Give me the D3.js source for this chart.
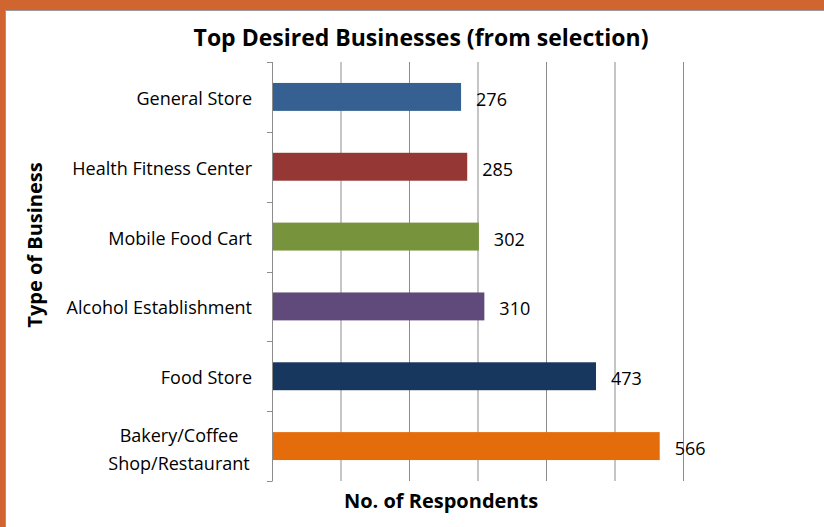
<!DOCTYPE html>
<html>
<head>
<meta charset="utf-8">
<script src="https://cdn.jsdelivr.net/npm/d3@7"></script>
<style>
  body { margin: 0; background: #fff; }
  svg { display: block; }
  text { font-family: 'Liberation Sans Narrow', 'Arial Narrow', 'Open Sans', sans-serif; }
</style>
</head>
<body>
<div id="chart"></div>
<script>
// data
const categories = ['General Store', 'Health Fitness Center', 'Mobile Food Cart',
    'Alcohol Establishment', 'Food Store', 'Bakery/Coffee\nShop/Restaurant'];
const values = [276, 285, 302, 310, 473, 566];
const barColors = ['#366092', '#953735', '#77933c', '#604a7b', '#17375e', '#e46c0a'];
const xTicks = [0, 100, 200, 300, 400, 500, 600];

const width = 824, height = 527;
const margin = { top: 62, right: 141, bottom: 46, left: 272 };
const innerW = width - margin.left - margin.right;
const innerH = height - margin.top - margin.bottom;

const svg = d3.select('#chart').append('svg')
    .attr('width', width)
    .attr('height', height);

// slide frame
svg.append('rect').attr('x', 0).attr('y', 0).attr('width', width).attr('height', 10).attr('fill', '#d06530');
svg.append('rect').attr('x', 0).attr('y', 0).attr('width', 5).attr('height', height).attr('fill', '#d06530');
svg.append('line').attr('x1', 5).attr('x2', width).attr('y1', 10.5).attr('y2', 10.5).attr('stroke', '#9a9a9a');
svg.append('line').attr('x1', 5.5).attr('x2', 5.5).attr('y1', 10).attr('y2', height).attr('stroke', '#9a9a9a');

const chart = svg.append('g')
    .attr('transform', `translate(${margin.left}, ${margin.top})`);

const xscale = d3.scaleLinear().domain([0, 600]).range([0, innerW]);
const yscale = d3.scaleBand().domain(categories).range([0, innerH]).paddingInner(0.6).paddingOuter(0.3);

// gridlines
chart.append('g')
    .selectAll('line')
    .data(xTicks.slice(1))
    .join('line')
    .attr('x1', d => xscale(d) + 0.5)
    .attr('x2', d => xscale(d) + 0.5)
    .attr('y1', 0)
    .attr('y2', innerH)
    .attr('stroke', '#8c8c8c')
    .attr('stroke-width', 1);

// bars
chart.append('g')
    .selectAll('rect')
    .data(categories)
    .join('rect')
    .attr('x', 0)
    .attr('y', d => yscale(d))
    .attr('width', (d, i) => xscale(values[i]))
    .attr('height', yscale.bandwidth())
    .attr('fill', (d, i) => barColors[i]);

// y axis with ticks between categories
const step = innerH / categories.length;
const yaxis = chart.append('g');
yaxis.append('line')
    .attr('x1', 0.5).attr('x2', 0.5).attr('y1', 0).attr('y2', innerH)
    .attr('stroke', '#8c8c8c');
yaxis.selectAll('.tick')
    .data(d3.range(categories.length + 1))
    .join('line')
    .attr('x1', -5).attr('x2', 0.5)
    .attr('y1', d => Math.round(d * step) + 0.5)
    .attr('y2', d => Math.round(d * step) + 0.5)
    .attr('stroke', '#8c8c8c');

// category labels
const labels = chart.append('g')
    .selectAll('text')
    .data(categories)
    .join('text')
    .attr('font-size', 18)
    .attr('fill', '#000')
    .attr('text-anchor', 'middle');
labels.each(function (d) {
    const lines = d.split('\n');
    const t = d3.select(this);
    const cy = yscale(d) + yscale.bandwidth() / 2;
    if (lines.length === 1) {
        t.attr('text-anchor', 'end').attr('x', -20).attr('y', cy + 8).text(d);
    } else {
        lines.forEach((l, k) => {
            t.append('tspan')
                .attr('x', -93)
                .attr('y', cy + 10 + (k - 0.5) * 28)
                .text(l);
        });
    }
});

// value labels
chart.append('g')
    .selectAll('text')
    .data(categories)
    .join('text')
    .attr('x', (d, i) => xscale(values[i]) + 15)
    .attr('y', d => yscale(d) + yscale.bandwidth() / 2 + 9)
    .attr('font-size', 18)
    .attr('fill', '#000')
    .text((d, i) => values[i]);

// titles
svg.append('text')
    .attr('x', 421).attr('y', 46)
    .attr('text-anchor', 'middle')
    .attr('font-size', 23).attr('font-weight', 'bold')
    .text('Top Desired Businesses (from selection)');

svg.append('text')
    .attr('x', 441).attr('y', 508)
    .attr('text-anchor', 'middle')
    .attr('font-size', 20).attr('font-weight', 'bold')
    .text('No. of Respondents');

svg.append('text')
    .attr('transform', 'translate(42, 245) rotate(-90)')
    .attr('text-anchor', 'middle')
    .attr('font-size', 20).attr('font-weight', 'bold')
    .text('Type of Business');
</script>
</body>
</html>
